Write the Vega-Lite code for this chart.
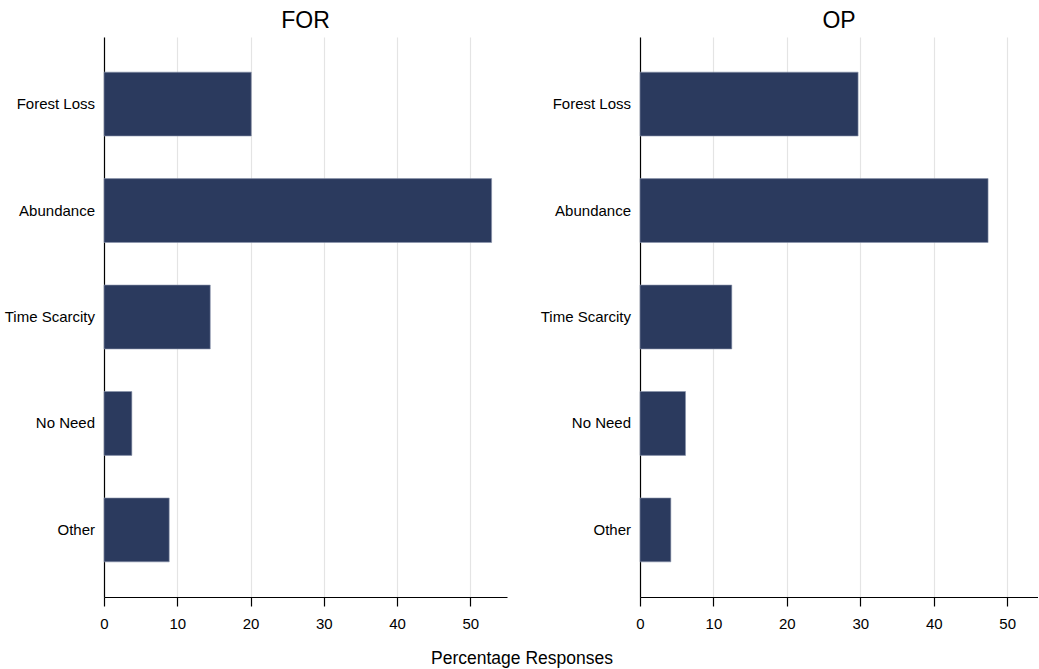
{
  "$schema": "https://vega.github.io/schema/vega-lite/v6.json",
  "padding": {"left": 0, "top": 10, "right": 0, "bottom": 2},
  "background": "white",
  "data": {
    "values": [
      {"group": "FOR", "reason": "Forest Loss", "pct": 20.1},
      {"group": "FOR", "reason": "Abundance", "pct": 52.9},
      {"group": "FOR", "reason": "Time Scarcity", "pct": 14.5},
      {"group": "FOR", "reason": "No Need", "pct": 3.8},
      {"group": "FOR", "reason": "Other", "pct": 8.9},
      {"group": "OP", "reason": "Forest Loss", "pct": 29.7},
      {"group": "OP", "reason": "Abundance", "pct": 47.4},
      {"group": "OP", "reason": "Time Scarcity", "pct": 12.5},
      {"group": "OP", "reason": "No Need", "pct": 6.2},
      {"group": "OP", "reason": "Other", "pct": 4.2}
    ]
  },
  "config": {
    "font": "Liberation Sans, Arial, sans-serif",
    "view": {"stroke": null},
    "concat": {"spacing": 29},
    "axis": {
      "labelColor": "#000000",
      "labelFontSize": 15,
      "domainColor": "#000000",
      "domainWidth": 1.2,
      "tickColor": "#000000",
      "tickWidth": 1.2
    }
  },
  "title": {
    "text": "Percentage Responses",
    "orient": "bottom",
    "anchor": "middle",
    "fontSize": 17.5,
    "fontWeight": "normal",
    "color": "#000000",
    "offset": 19,
    "dx": 3
  },
  "hconcat": [
    {
      "width": 403,
      "height": 560,
      "title": {"text": "FOR", "frame": "group", "anchor": "middle", "fontSize": 23, "fontWeight": "normal", "color": "#000000", "baseline": "bottom", "offset": -19},
      "transform": [{"filter": "datum.group === 'FOR'"}],
      "mark": {"type": "bar", "color": "#2b3a5e", "stroke": "#8a93ab", "strokeWidth": 0.6},
      "encoding": {
        "y": {
          "field": "reason", "type": "nominal",
          "sort": ["Forest Loss", "Abundance", "Time Scarcity", "No Need", "Other"],
          "scale": {"paddingInner": 0.4, "paddingOuter": 0.33},
          "axis": {"title": null, "ticks": false, "labelPadding": 9.5, "minExtent": 104, "maxExtent": 104, "grid": false}
        },
        "x": {
          "field": "pct", "type": "quantitative",
          "scale": {"domain": [0, 55], "nice": false, "zero": true},
          "axis": {"title": null, "values": [0, 10, 20, 30, 40, 50], "grid": true, "gridColor": "#e4e4e4", "gridWidth": 1.2, "tickSize": 9, "labelPadding": 10, "labelFlush": false}
        }
      }
    },
    {
      "width": 398,
      "height": 560,
      "title": {"text": "OP", "frame": "group", "anchor": "middle", "fontSize": 23, "fontWeight": "normal", "color": "#000000", "baseline": "bottom", "offset": -19},
      "transform": [{"filter": "datum.group === 'OP'"}],
      "mark": {"type": "bar", "color": "#2b3a5e", "stroke": "#8a93ab", "strokeWidth": 0.6},
      "encoding": {
        "y": {
          "field": "reason", "type": "nominal",
          "sort": ["Forest Loss", "Abundance", "Time Scarcity", "No Need", "Other"],
          "scale": {"paddingInner": 0.4, "paddingOuter": 0.33},
          "axis": {"title": null, "ticks": false, "labelPadding": 9.5, "minExtent": 104, "maxExtent": 104, "grid": false}
        },
        "x": {
          "field": "pct", "type": "quantitative",
          "scale": {"domain": [0, 54.2], "nice": false, "zero": true},
          "axis": {"title": null, "values": [0, 10, 20, 30, 40, 50], "grid": true, "gridColor": "#e4e4e4", "gridWidth": 1.2, "tickSize": 9, "labelPadding": 10, "labelFlush": false}
        }
      }
    }
  ]
}
